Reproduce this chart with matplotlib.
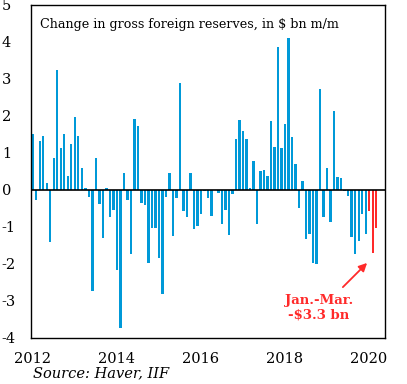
import numpy as np
import matplotlib
matplotlib.use('Agg')
import matplotlib.pyplot as plt

# monthly change in gross foreign reserves, $ bn, Jan 2012 - Mar 2020
valores = [
    1.50, -0.28, 1.33, 1.47, 0.18, -1.41, 0.87, 3.23, 1.14, 1.52, 0.39, 1.25,
    1.98, 1.47, 0.58, 0.04, -0.20, -2.74, 0.87, -0.39, -1.31, 0.04, -0.74, -0.55,
    -2.17, -3.74, 0.47, -0.28, -1.72, 1.93, 1.74, -0.36, -0.41, -1.98, -1.04, -1.02,
    -1.85, -2.82, -0.20, 0.47, -1.25, -0.23, 2.90, -0.58, -0.74, 0.47, -1.06, -0.98,
    -0.66, -0.04, -0.23, -0.71, 0.00, -0.08, -0.93, -0.55, -1.23, -0.12, 1.39, 1.90,
    1.60, 1.39, 0.04, 0.77, -0.93, 0.52, 0.55, 0.39, 1.87, 1.17, 3.87, 1.14,
    1.79, 4.12, 1.44, 0.71, -0.50, 0.23, -1.33, -1.20, -1.98, -2.01, 2.74, -0.74,
    0.58, -0.87, 2.14, 0.36, 0.33, -0.04, -0.17, -1.28, -1.74, -1.39, -0.66, -1.20,
    -0.58, -1.71, -1.04,
]
anos = 2012 + np.arange(len(valores)) / 12
cores = ['#0099d8'] * (len(valores) - 3) + ['#ff2a2a'] * 3

serif = 'DejaVu Serif'
fig = plt.figure(figsize=(4.07, 3.84), dpi=100)
ax = fig.add_axes([0.076, 0.12, 0.870, 0.867])

ax.bar(anos, valores, width=0.6 / 12, color=cores)
ax.axhline(0, color='black', lw=1.2)

ax.set_ylim(-4, 5)
ax.set_xlim(2012 - 2 / 42, 2020.38)
ax.set_yticks(range(-4, 6))
ax.set_yticklabels([str(v) for v in range(-4, 6)], family=serif, fontsize=10.5)
ax.set_xticks([2012, 2014, 2016, 2018, 2020])
ax.set_xticklabels(['2012', '2014', '2016', '2018', '2020'], family=serif, fontsize=10.5)
ax.tick_params(length=0)
ax.tick_params(axis='x', pad=10)
ax.tick_params(axis='y', pad=21)
for lbl in ax.get_yticklabels():
    lbl.set_horizontalalignment('left')
for s in ax.spines.values():
    s.set_linewidth(1.0)

ax.text(0.025, 0.962, 'Change in gross foreign reserves, in $ bn m/m',
        transform=ax.transAxes, family=serif, fontsize=9.2, va='top')

ax.annotate('', xy=(2020.0, -1.92), xytext=(2019.33, -2.68),
            arrowprops=dict(arrowstyle='-|>', color='#ff2a2a', lw=1.3,
                            mutation_scale=12))
ax.text(2018.81, -3.19, 'Jan.-Mar.\n-$3.3 bn', color='#ff2a2a', family=serif,
        fontsize=9.5, fontweight='bold', ha='center', va='center', linespacing=1.1)

fig.text(0.08, 0.018, 'Source: Haver, IIF', family=serif, style='italic', fontsize=10.5)

fig.savefig('out.png', dpi=100)
